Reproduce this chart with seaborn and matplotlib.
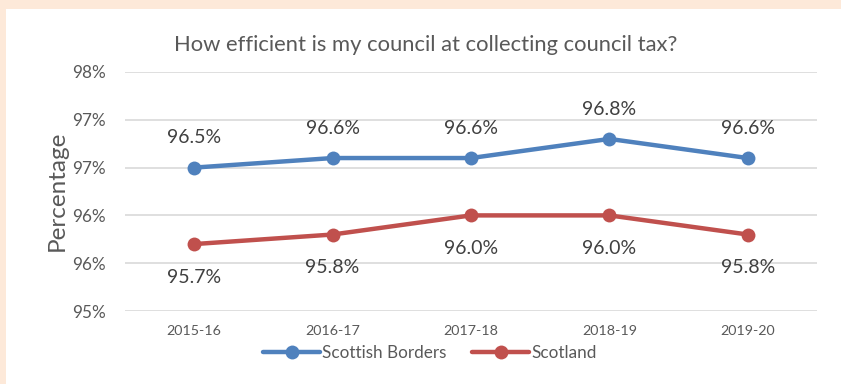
import matplotlib
matplotlib.use("Agg")
import matplotlib.pyplot as plt
from matplotlib.patches import Rectangle
import seaborn as sns
import pandas as pd

years = ["2015-16", "2016-17", "2017-18", "2018-19", "2019-20"]
borders = [96.5, 96.6, 96.6, 96.8, 96.6]
scotland = [95.7, 95.8, 96.0, 96.0, 95.8]
ytick_values = [95.0, 95.5, 96.0, 96.5, 97.0, 97.5]
ytick_labels = ["95%", "96%", "96%", "97%", "97%", "98%"]
series_names = ["Scottish Borders", "Scotland"]
colors = ["#4F81BD", "#C0504D"]

sns.set_theme(style="white")
plt.rcParams["font.family"] = ["Lato", "DejaVu Sans"]

df = pd.DataFrame({
    "Year": years * 2,
    "Value": borders + scotland,
    "Area": [series_names[0]] * len(years) + [series_names[1]] * len(years),
})

text_col = "#595959"
fig = plt.figure(figsize=(8.41, 3.84), dpi=100, facecolor="#FDE9D9")
fig.patches.append(Rectangle((6 / 841, 0), 1, 1 - 9 / 384, transform=fig.transFigure,
                             facecolor="white", edgecolor="none", zorder=-10))
ax = fig.add_axes([125 / 841, 1 - 311 / 384, 692 / 841, 239 / 384])
ax.set_facecolor("none")

sns.lineplot(data=df, x="Year", y="Value", hue="Area", palette=colors,
             marker="o", markersize=10, markeredgewidth=0, linewidth=3.2,
             ax=ax, legend=True, sort=False)

ax.set_xlim(-0.5, len(years) - 0.5)
ax.set_ylim(95.0, 97.5)
ax.set_yticks(ytick_values)
ax.set_yticklabels(ytick_labels)
ax.yaxis.grid(True, color="#D9D9D9", linewidth=1.2)
ax.set_axisbelow(True)
for s in ax.spines.values():
    s.set_visible(False)
ax.tick_params(axis="y", length=0, labelsize=12.3, labelcolor=text_col, pad=14)
ax.tick_params(axis="x", length=0, labelsize=10.3, labelcolor=text_col, pad=10)
ax.set_xlabel("")
ax.set_ylabel("")

for i, v in enumerate(borders):
    ax.annotate(f"{v:.1f}%", (i, v), xytext=(0, 21.5), textcoords="offset points",
                ha="center", va="center", fontsize=14, color="#404040")
for i, v in enumerate(scotland):
    ax.annotate(f"{v:.1f}%", (i, v), xytext=(0, -24), textcoords="offset points",
                ha="center", va="center", fontsize=14, color="#404040")

fig.text(426 / 841, 1 - 45 / 384, "How efficient is my council at collecting council tax?",
         ha="center", va="center", fontsize=15.8, color=text_col)
fig.text(57 / 841, 1 - 191 / 384, "Percentage", rotation=90, ha="center", va="center",
         fontsize=17.5, color=text_col)

handles, labels = ax.get_legend_handles_labels()
ax.get_legend().remove()
fig.legend(handles, labels, loc="center", bbox_to_anchor=(430 / 841, 1 - 353 / 384),
           ncol=2, frameon=False, fontsize=12.3, labelcolor=text_col,
           handlelength=3.3, handletextpad=0.15, columnspacing=1.5)

fig.savefig("out.png", dpi=100, facecolor=fig.get_facecolor())
